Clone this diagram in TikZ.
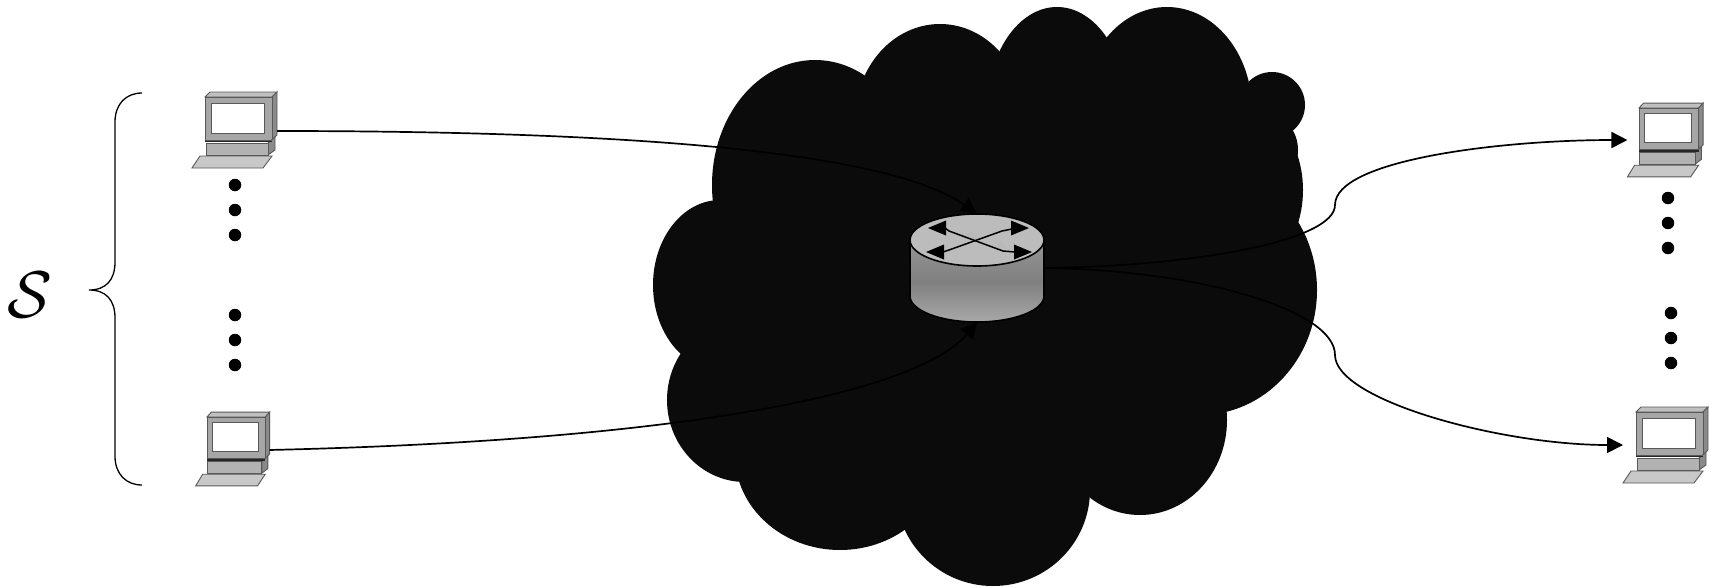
\documentclass[tikz,border=0pt]{standalone}
\usetikzlibrary{arrows.meta}

\definecolor{cloudblack}{RGB}{11,11,11}
\definecolor{pcbody}{RGB}{166,166,166}
\definecolor{pctop}{RGB}{192,192,192}
\definecolor{pcside}{RGB}{138,138,138}
\definecolor{pcedge}{RGB}{88,88,88}
\definecolor{pckey}{RGB}{200,200,200}
\definecolor{pcbase}{RGB}{178,178,178}
\definecolor{rtop}{RGB}{188,188,188}
\definecolor{rsidetop}{RGB}{150,150,150}
\definecolor{rsidebot}{RGB}{168,168,168}

\tikzset{
  pcline/.style={draw=pcedge, line width=0.9pt},
  conn/.style={draw=black, line width=1.7pt},
  tip/.style={-{Triangle[length=16pt,width=16pt]}},
  dot/.style={circle, fill=black, inner sep=0pt, minimum size=12.5pt},
  cloudpart/.style={fill=cloudblack},
  % desktop computer, origin at the top-left corner of the monitor front
  pics/computer/.style={code={
    \filldraw[pcline, fill=pctop] (0,0) -- (5,-5) -- (72,-5) -- (67,0) -- cycle;
    \filldraw[pcline, fill=pcside] (67,0) -- (72,-5) -- (72,38) -- (67,43) -- cycle;
    \filldraw[pcline, fill=pcbody] (0,0) rectangle (67,43);
    \filldraw[pcline, fill=white] (6,6) rectangle (59,36);
    \filldraw[pcline, fill=pcside] (63,46) -- (70,40) -- (70,53) -- (63,58) -- cycle;
    \filldraw[pcline, fill=pcbase] (1,46) rectangle (63,58);
    \draw[black!85, line width=1.8pt] (0,44.5) -- (67,44.5);
    \filldraw[pcline, fill=pckey] (-13,71) -- (-5,59) -- (67,59) -- (58,71) -- cycle;
    \coordinate (-out) at (72,34);
    \coordinate (-in) at (-13,33);
  }}
}

\begin{document}
\begin{tikzpicture}[x=1pt,y=-1pt]
\useasboundingbox (0,0) rectangle (1709,587);

% ---- the network cloud, built from overlapping ellipses ----
\begin{scope}[cloudpart]
  \fill (990,300) ellipse [x radius=260, y radius=210];
  \fill (815,185) ellipse [x radius=103, y radius=125];
  \fill (940,120) ellipse [x radius=85,  y radius=96];
  \fill (1057,110) ellipse [x radius=70, y radius=103];
  \fill (1167,110) ellipse [x radius=85, y radius=103];
  \fill (1272,105) ellipse [x radius=33, y radius=33];
  \fill (1268,150) ellipse [x radius=30, y radius=35];
  \fill (1215,190) ellipse [x radius=88, y radius=100];
  \fill (1200,290) ellipse [x radius=117, y radius=125];
  \fill (1140,420) ellipse [x radius=87, y radius=95];
  \fill (993,490) ellipse [x radius=97, y radius=96];
  \fill (840,455) ellipse [x radius=105, y radius=95];
  \fill (745,400) ellipse [x radius=78, y radius=82];
  \fill (720,285) ellipse [x radius=67, y radius=85];
\end{scope}

% ---- router ----
\node[inner sep=0pt, minimum width=134pt, minimum height=108pt] (router) at (977,268) {};
\shade[top color=rsidetop, bottom color=rsidebot, middle color=rsidetop!85!black]
  (910,240) -- (910,296) arc[start angle=180, end angle=0, x radius=67, y radius=26] -- (1044,240) -- cycle;
\draw[line width=1.6pt] (910,240) -- (910,296) arc[start angle=180, end angle=0, x radius=67, y radius=26] -- (1044,240);
\filldraw[fill=rtop, line width=1.6pt] (977,240) ellipse [x radius=67, y radius=26];
\fill[gray!55] (950,232) -- (985,243) -- (975,234) -- cycle;
\fill[gray!55] (995,248) -- (1010,250) -- (1000,241) -- cycle;
\draw[line width=1.5pt] (945,228) -- (949,231) -- (1003,251) -- (1015,252);
\draw[line width=1.5pt] (943,252) -- (949,250) -- (1002,231) -- (1012,229);
\fill (928,228) -- (946,220.5) -- (946,235.5) -- cycle;
\fill (1029,228) -- (1011,220.5) -- (1011,235.5) -- cycle;
\fill (926,252) -- (944,244.5) -- (944,259.5) -- cycle;
\fill (1032,252) -- (1014,244.5) -- (1014,259.5) -- cycle;

% ---- hosts ----
\pic (lt) at (205,97) {computer};
\pic[xscale=0.87, yscale=0.97] (lb) at (207,417) {computer};
\pic[xscale=0.89, yscale=0.97] (rt) at (1639,108) {computer};
\pic (rb) at (1636,412) {computer};

% ---- ellipsis dots ----
\node[dot] (l1) at (235,185) {};
\node[dot] (l2) at (235,210) {};
\node[dot] (l3) at (235,235) {};
\node[dot] (l4) at (235,315) {};
\node[dot] (l5) at (235,340) {};
\node[dot] (l6) at (235,365) {};
\node[dot] (r1) at (1668,198) {};
\node[dot] (r2) at (1668,223) {};
\node[dot] (r3) at (1668,248) {};
\node[dot] (r4) at (1671,313) {};
\node[dot] (r5) at (1671,338) {};
\node[dot] (r6) at (1671,363) {};

% ---- brace and set label ----
\draw[line width=1.3pt] (142,93) .. controls (126,93) and (115,104) .. (115,122)
  -- (115,262) .. controls (115,280) and (106,290) .. (89,290)
  .. controls (106,290) and (115,300) .. (115,318)
  -- (115,456) .. controls (115,474) and (126,485) .. (142,485);
\node (S) at (30,295) {\scalebox{6.6}{$\mathcal{S}$}};

% ---- flows ----
\draw[conn, tip] (lt-out) .. controls (700,131) and (900,160) .. (router.north);
\draw[conn, tip] (lb-out) .. controls (700,440) and (920,390) .. (router.south);
\draw[conn, tip] (router.east) .. controls (1200,266) and (1335,240) .. (1335,205)
  .. controls (1335,160) and (1500,140) .. (rt-in);
\draw[conn, tip] (router.east) .. controls (1200,270) and (1335,310) .. (1335,355)
  .. controls (1335,400) and (1500,445) .. (rb-in);
\end{tikzpicture}
\end{document}
